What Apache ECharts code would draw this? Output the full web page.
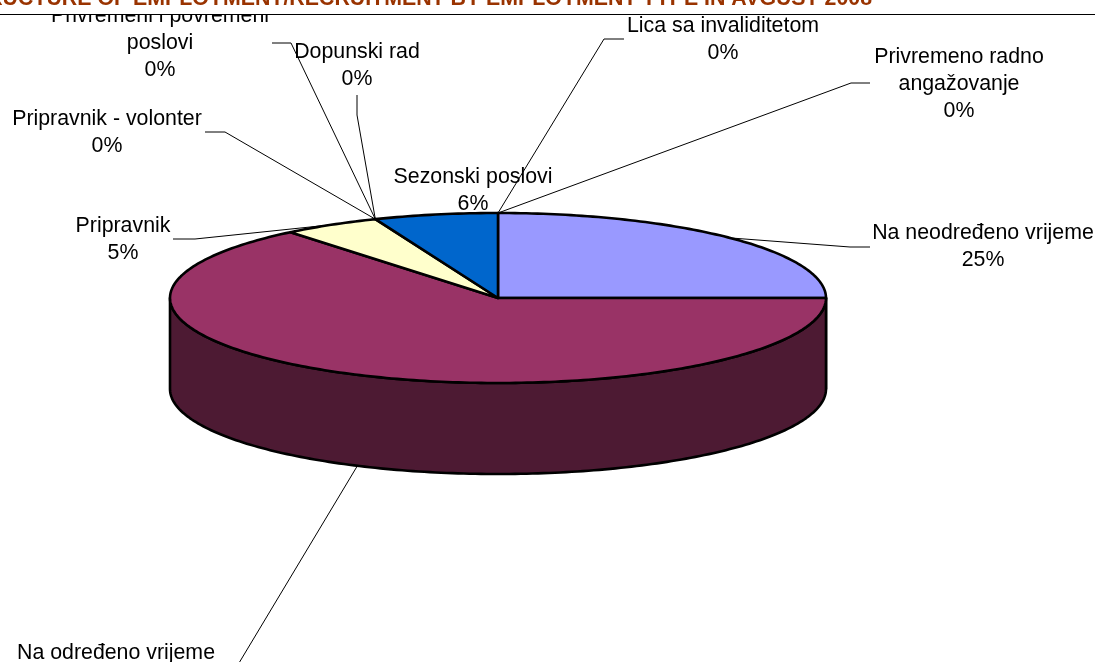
<!DOCTYPE html>
<html><head><meta charset="utf-8">
<style>html,body{margin:0;padding:0;background:#fff}#c{width:1095px;height:662px}</style>
<script src="https://cdn.jsdelivr.net/npm/echarts@6/dist/echarts.min.js"></script>
</head><body><div id="c"></div>
<script>
// Data, clockwise from 12 o'clock
var categories = ['Na neodređeno vrijeme','Na određeno vrijeme','Pripravnik','Pripravnik - volonter','Privremeni i povremeni\nposlovi','Dopunski rad','Sezonski poslovi','Lica sa invaliditetom','Privremeno radno\nangažovanje'];
var shares = [25.0,64.1,4.8,0,0,0,6.1,0,0];
var sliceColors = ['#9999FF','#993366','#FFFFCC','#FFFFFF','#FFFFFF','#FFFFFF','#0066CC','#FFFFFF','#FFFFFF'];
var sideColors = ['#4D4D80','#4D1A33','#808066','#808080','#808080','#808080','#003366','#808080','#808080'];
var titleText = 'STRUCTURE OF EMPLOYMENT/RECRUITMENT BY EMPLOYMENT TYPE IN AVGUST 2008';

// Layout
var PIE = {cx:498, cy:298, rx:328, ry:85, depth:91};
var FONT = '"Liberation Sans", Arial, sans-serif';
var LINE_H = 27;
// label: centre x, first-line y; leader: [elbow, end] polylines from the slice anchor
var labelLayout = [
 {x:983,y:233,path:[[850,247],[870,247]]},
 {x:116,y:653,path:[[236,668]],side:true},
 {x:123,y:226,path:[[195,239],[173,239]]},
 {x:107,y:119,path:[[225,132],[205,132]]},
 {x:160,y:16,path:[[291,43],[272,43]]},
 {x:357,y:52,path:[[357,115],[357,95]]},
 {x:473,y:177,path:null},
 {x:723,y:26,path:[[604,39],[624,39]]},
 {x:959,y:57,path:[[851,83],[870,83]]}
];

var total = shares.reduce(function(a,b){return a+b;},0);
var starts = []; (function(){var c=0;shares.forEach(function(v){starts.push(c);c+=v;});})();
function ang(s){return s/total*2*Math.PI;}
function pt(a,dy){return [PIE.cx+PIE.rx*Math.sin(a), PIE.cy-PIE.ry*Math.cos(a)+(dy||0)];}
function arc(a0,a1,dy){var pts=[],n=Math.max(1,Math.ceil((a1-a0)/(Math.PI/180)));for(var i=0;i<=n;i++){pts.push(pt(a0+(a1-a0)*i/n,dy));}return pts;}

var rows = categories.map(function(c,i){return [i,shares[i]];});
var stroke = {stroke:'#000',lineWidth:2.6,lineJoin:'round'};

var option = {
 animation:false,
 backgroundColor:'#fff',
 series:[
  {type:'custom',coordinateSystem:'none',silent:true,data:rows,z:1,clip:false,
   renderItem:function(p,api){
    var i=api.value(0),v=api.value(1); if(!v) return {type:'group',children:[]};
    var a0=Math.max(ang(starts[i]),Math.PI/2),a1=Math.min(ang(starts[i]+v),Math.PI*1.5);
    if(a1<=a0) return {type:'group',children:[]};
    var pts=arc(a0,a1,0).concat(arc(a0,a1,PIE.depth).reverse());
    return {type:'polygon',shape:{points:pts},style:Object.assign({fill:sideColors[i]},stroke)};
   }},
  {type:'custom',coordinateSystem:'none',silent:true,data:rows,z:2,clip:false,
   renderItem:function(p,api){
    var i=api.value(0),v=api.value(1); if(!v) return {type:'group',children:[]};
    var a0=ang(starts[i]),a1=ang(starts[i]+v);
    var pts=[[PIE.cx,PIE.cy]].concat(arc(a0,a1,0));
    return {type:'polygon',shape:{points:pts},style:Object.assign({fill:sliceColors[i]},stroke)};
   }},
  {type:'custom',coordinateSystem:'none',silent:true,data:rows,z:3,clip:false,
   renderItem:function(p,api){
    var i=api.value(0),v=api.value(1),L=labelLayout[i]; if(!L.path) return {type:'group',children:[]};
    var a=ang(starts[i]+v/2);
    var start=pt(a,L.side?PIE.depth:0);
    return {type:'polyline',shape:{points:[start].concat(L.path)},style:{fill:null,stroke:'#000',lineWidth:1}};
   }},
  {type:'custom',coordinateSystem:'none',silent:true,data:rows,z:4,clip:false,
   renderItem:function(p,api){
    var i=api.value(0),v=api.value(1),L=labelLayout[i];
    return {type:'text',style:{x:L.x,y:L.y-LINE_H/2,text:categories[i]+'\n'+Math.round(v/total*100)+'%',
      fill:'#000',font:'21.33px '+FONT,lineHeight:LINE_H,align:'center',verticalAlign:'top'}};
   }}
 ],
 graphic:[
  {type:'rect',z:100,silent:true,shape:{x:0,y:0,width:1095,height:14},style:{fill:'#fff'}},
  {type:'text',z:101,silent:true,style:{x:872,y:-11,text:titleText,fill:'#993300',font:'bold 21.33px '+FONT,align:'right',verticalAlign:'top'}},
  {type:'rect',z:101,silent:true,shape:{x:0,y:14,width:1095,height:1},style:{fill:'#000'}}
 ]
};
echarts.init(document.getElementById('c'),null,{renderer:'canvas'}).setOption(option);
</script></body></html>
